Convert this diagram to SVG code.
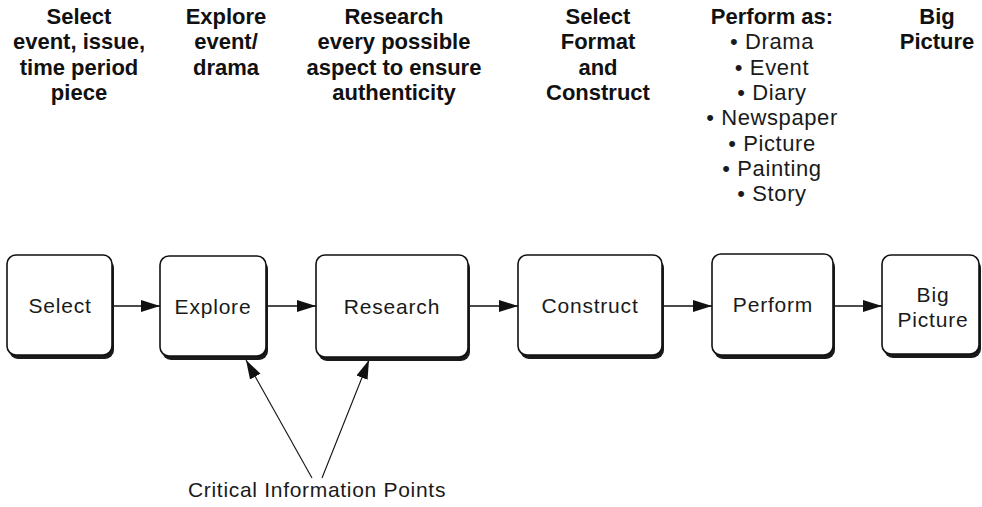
<svg xmlns="http://www.w3.org/2000/svg" width="982" height="507" viewBox="0 0 982 507">
  <style>
    .bg { fill: #ffffff; }
    .box { fill: #ffffff; stroke: #111111; stroke-width: 1.6; }
    .shadow { fill: #1a1a1a; }
    .label { font-family: "Liberation Sans", Arial, sans-serif; font-size: 21px; letter-spacing: 0.8px; fill: #1a1a1a; text-anchor: middle; }
    .head { font-family: "Liberation Sans", Arial, sans-serif; font-size: 22px; font-weight: bold; fill: #111111; text-anchor: middle; }
    .item { font-family: "Liberation Sans", Arial, sans-serif; font-size: 22px; letter-spacing: 0.6px; fill: #1a1a1a; text-anchor: middle; }
    .note { font-family: "Liberation Sans", Arial, sans-serif; font-size: 21px; letter-spacing: 0.7px; fill: #1a1a1a; text-anchor: middle; }
    .flow { stroke: #111111; stroke-width: 1.6; fill: none; marker-end: url(#head); }
    .ptr { stroke: #111111; stroke-width: 1.1; fill: none; marker-end: url(#head); }
  </style>
  <defs>
    <marker id="head" markerUnits="userSpaceOnUse" markerWidth="20" markerHeight="14" refX="19" refY="7" orient="auto">
      <path d="M0,1 L19,7 L0,13 Z" fill="#111111"/>
    </marker>
  </defs>

  <rect class="bg" x="0" y="0" width="982" height="507"/>

  <!-- stage headings -->
  <g id="headings">
    <text class="head" x="79" y="24">Select</text>
    <text class="head" x="79" y="49">event, issue,</text>
    <text class="head" x="79" y="75">time period</text>
    <text class="head" x="79" y="100">piece</text>

    <text class="head" x="226" y="24">Explore</text>
    <text class="head" x="226" y="49">event/</text>
    <text class="head" x="226" y="75">drama</text>

    <text class="head" x="394" y="24">Research</text>
    <text class="head" x="394" y="49">every possible</text>
    <text class="head" x="394" y="75">aspect to ensure</text>
    <text class="head" x="394" y="100">authenticity</text>

    <text class="head" x="598" y="24">Select</text>
    <text class="head" x="598" y="49">Format</text>
    <text class="head" x="598" y="75">and</text>
    <text class="head" x="598" y="100">Construct</text>

    <text class="head" x="772" y="24">Perform as:</text>
    <text class="item" x="772" y="49">• Drama</text>
    <text class="item" x="772" y="75">• Event</text>
    <text class="item" x="772" y="100">• Diary</text>
    <text class="item" x="772" y="125">• Newspaper</text>
    <text class="item" x="772" y="151">• Picture</text>
    <text class="item" x="772" y="176">• Painting</text>
    <text class="item" x="772" y="201">• Story</text>

    <text class="head" x="937" y="24">Big</text>
    <text class="head" x="937" y="49">Picture</text>
  </g>

  <!-- connectors -->
  <g id="connectors">
    <line class="flow" x1="112" y1="306" x2="160" y2="306"/>
    <line class="flow" x1="266" y1="306" x2="316" y2="306"/>
    <line class="flow" x1="468" y1="306" x2="518" y2="306"/>
    <line class="flow" x1="662" y1="306" x2="712" y2="306"/>
    <line class="flow" x1="833" y1="306" x2="882" y2="306"/>
    <line class="ptr" x1="312" y1="478" x2="246" y2="360"/>
    <line class="ptr" x1="322" y1="478" x2="369" y2="360"/>
  </g>

  <!-- process boxes -->
  <g id="select">
    <rect class="shadow" x="9" y="259" width="105" height="100" rx="9"/>
    <rect class="box" x="7" y="255" width="105" height="100" rx="9"/>
    <text class="label" x="60" y="313">Select</text>
  </g>
  <g id="explore">
    <rect class="shadow" x="162" y="260" width="106" height="100" rx="9"/>
    <rect class="box" x="160" y="256" width="106" height="100" rx="9"/>
    <text class="label" x="213" y="314">Explore</text>
  </g>
  <g id="research">
    <rect class="shadow" x="318" y="259" width="152" height="102" rx="9"/>
    <rect class="box" x="316" y="255" width="152" height="102" rx="9"/>
    <text class="label" x="392" y="314">Research</text>
  </g>
  <g id="construct">
    <rect class="shadow" x="520" y="259" width="144" height="100" rx="9"/>
    <rect class="box" x="518" y="255" width="144" height="100" rx="9"/>
    <text class="label" x="590" y="313">Construct</text>
  </g>
  <g id="perform">
    <rect class="shadow" x="714" y="258" width="121" height="101" rx="9"/>
    <rect class="box" x="712" y="254" width="121" height="101" rx="9"/>
    <text class="label" x="773" y="312">Perform</text>
  </g>
  <g id="big-picture">
    <rect class="shadow" x="884" y="259" width="97" height="99" rx="9"/>
    <rect class="box" x="882" y="255" width="97" height="99" rx="9"/>
    <text class="label" x="933" y="302">Big</text>
    <text class="label" x="933" y="327">Picture</text>
  </g>

  <!-- annotation -->
  <g id="critical-points">
    <text class="note" x="317" y="497">Critical Information Points</text>
  </g>
</svg>
